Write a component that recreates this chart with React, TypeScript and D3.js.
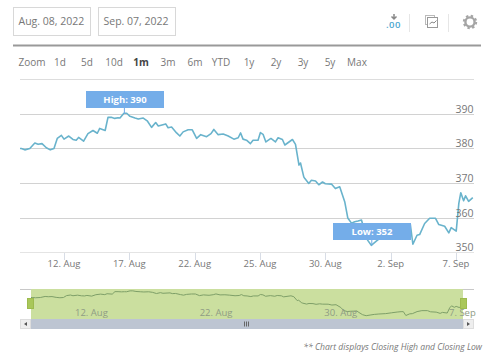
import React from "react";
import * as d3 from "d3";

// Trading sessions counted from 12 Aug (0)
const sessions = [-2.02,-1.96,-1.8,-1.57,-1.34,-1.19,-1.01,-0.81,-0.63,-0.46,-0.31,-0.12,0,0.22,0.41,0.56,0.67,0.9,1.1,1.33,1.53,1.64,1.89,2.02,2.17,2.33,2.48,2.57,2.75,2.88,3.03,3.26,3.41,3.64,3.82,4.02,4.21,4.33,4.67,4.78,4.94,5.17,5.32,5.47,5.7,5.89,6.09,6.28,6.55,6.75,6.88,7.08,7.31,7.54,7.8,8,8.11,8.22,8.38,8.56,8.68,8.91,9.02,9.14,9.27,9.5,9.71,9.83,10.03,10.14,10.49,10.63,10.79,10.86,11.01,11.06,11.24,11.36,11.55,11.7,11.87,12,12.28,12.46,12.66,12.89,13.03,13.2,13.35,13.5,13.66,13.76,13.94,14.11,14.34,14.5,14.72,15.05,15.32,15.6,15.79,15.9,16.02,16.21,16.33,16.56,16.79,17.06,17.21,17.48,17.67,17.78,18.01,18.13,18.22,18.35,18.44,18.58,18.77];
const closes = [380,380,379.6,380,381.6,381.2,381.4,380.2,379.6,380,382.9,383.8,382.7,383.6,382.6,382.4,383.2,382.1,384.3,385.2,384.4,385.8,385.2,389,389,388.7,388.9,388.8,390.2,390.2,389.3,388.8,388.5,388.8,388,386.1,387.5,386.5,387.1,386,386.2,384.5,383.6,384.8,385.4,385.4,382.9,384,383.4,384.3,385.5,384,384.2,383.6,382.7,383.1,384.5,382.7,382.4,381.4,382.4,382.4,384.6,384.1,381.9,382.9,381.9,383.1,382.6,381,382.6,381.2,375.2,375.8,371.8,371.3,369.9,370.8,370.6,369.5,370.3,369.8,369.7,368.4,368.9,364.6,359.9,358.4,358.8,359,359.3,357,353.5,352,353.2,354,354.6,355.2,356.4,357.6,358.2,358.2,352.3,354.9,355.1,358.3,359.8,359.8,358,357.5,355.6,357.1,356.1,364.1,367.2,364.9,366.3,364.7,365.8];

const yTicks = [350, 360, 370, 380, 390];
const xTickSessions = [0, 3, 6, 9, 12, 15, 18];
const xTickLabels = ["12. Aug", "17. Aug", "22. Aug", "25. Aug", "30. Aug", "2. Sep", "7. Sep"];
const navTickSessions = [0, 6, 12, 18];
const navTickLabels = ["12. Aug", "22. Aug", "30. Aug", "7. Sep"];
const dateInputs = ["Aug. 08, 2022", "Sep. 07, 2022"];
const rangeLabels = ["Zoom", "1d", "5d", "10d", "1m", "3m", "6m", "YTD", "1y", "2y", "3y", "5y", "Max"];
const rangeCenters = [32, 60, 87, 114, 141, 168, 195, 221, 249, 276, 303, 330, 357];

const FONT = "'Open Sans', 'Noto Sans', sans-serif";
const TEXT = "#777";

export default function App() {
  const x = d3.scaleLinear().domain([0, 18]).range([64, 456]);
  const y = d3.scaleLinear().domain([350, 390]).range([252.2, 113.9]);
  const nx = d3.scaleLinear().domain([-2.02, 18.77]).range([31, 463]);
  const ny = d3.scaleLinear().domain([352, 390]).range([315.7, 291]);
  const pts = sessions.map((s, i) => [s, closes[i]] as [number, number]);
  const line = d3.line<[number, number]>().x((d) => x(d[0])).y((d) => y(d[1]));
  const navLine = d3.line<[number, number]>().x((d) => nx(d[0])).y((d) => ny(d[1]));

  const hi = 390;
  const lo = 352;

  return (
    <svg width={500} height={356} style={{ position: "absolute", left: 0, top: 0, fontFamily: FONT }}>
      <rect width={500} height={356} fill="#fff" />
      {/* date inputs */}
      {dateInputs.map((t, i) => (
        <g key={t}>
          <rect x={13.5 + i * 85} y={7.5} width={77} height={28} fill="#fff" stroke="#d8d8d8" />
          <text x={18.5 + i * 85} y={25} fontSize={10.5} fill={TEXT}>{t}</text>
        </g>
      ))}
      {/* toolbar icons */}
      <path d="M394 14v4M391.5 16.5l2.5 2.5 2.5-2.5" fill="none" stroke="#888" strokeWidth={1.5} />
      <text x={393.5} y={28} fontSize={9.5} fontWeight={600} letterSpacing={0.5} fill="#4ba6cf" textAnchor="middle">.00</text>
      <line x1={409.5} x2={409.5} y1={14} y2={32} stroke="#e6e6e6" />
      <rect x={425.5} y={15.5} width={9} height={9} fill="#fff" stroke="#bbb" />
      <rect x={427.5} y={17.5} width={10} height={10} fill="#fff" stroke="#999" />
      <path d="M429.5 24l2.5-2 2 1 2.5-2.5" fill="none" stroke="#888" />
      <line x1={448.5} x2={448.5} y1={14} y2={32} stroke="#e6e6e6" />
      <circle cx={470} cy={22} r={4.6} fill="none" stroke="#a5a5a5" strokeWidth={2.4} />
      <circle cx={470} cy={22} r={6.2} fill="none" stroke="#a5a5a5" strokeWidth={2} strokeDasharray="2.4 2.47" />
      {/* separators */}
      <line x1={13} x2={481} y1={45.5} y2={45.5} stroke="#999" strokeWidth={2} />
      {rangeLabels.map((t, i) => (
        <text key={t} x={rangeCenters[i]} y={66} fontSize={10} textAnchor="middle" fill={t === "1m" ? "#444" : TEXT} fontWeight={t === "1m" ? 700 : 400}>{t}</text>
      ))}
      <line x1={20} x2={474} y1={79.5} y2={79.5} stroke="#ddd" />
      {/* grid */}
      {yTicks.map((t) => (
        <line key={t} x1={20} x2={474} y1={Math.round(y(t)) + 0.5} y2={Math.round(y(t)) + 0.5} stroke={t === 350 ? "#e4e4e4" : "#d2d2d2"} />
      ))}
      {xTickSessions.map((s, i) => (
        <g key={s}>
          <line x1={Math.round(x(s)) + 0.5} x2={Math.round(x(s)) + 0.5} y1={253} y2={260} stroke="#d8dde6" />
          <text x={x(s)} y={267} fontSize={9.5} textAnchor="middle" fill={TEXT}>{xTickLabels[i]}</text>
        </g>
      ))}
      {/* series */}
      <path d={line(pts) ?? ""} fill="none" stroke="#69b3cc" strokeWidth={1.6} strokeLinejoin="round" />
      {/* y labels */}
      {yTicks.map((t) => (
        <text key={t} x={473.5} y={y(t) - 1} fontSize={10.5} textAnchor="end" fill={TEXT}>{t}</text>
      ))}
      {/* high / low flags */}
      <line x1={x(2.75) + 0.5} x2={x(2.75) + 0.5} y1={108} y2={y(hi)} stroke="#6fa9e8" />
      <rect x={86} y={91} width={78} height={17} fill="#74ade9" />
      <text x={125} y={103} fontSize={9.5} fontWeight={700} textAnchor="middle" fill="#fff">High: {hi}</text>
      <line x1={x(14.11) + 0.5} x2={x(14.11) + 0.5} y1={240} y2={y(lo)} stroke="#6fa9e8" />
      <rect x={333} y={223} width={78} height={17} fill="#74ade9" />
      <text x={372} y={235} fontSize={9.5} fontWeight={700} textAnchor="middle" fill="#fff">Low: {lo}</text>
      {/* navigator */}
      <line x1={20} x2={474} y1={289.5} y2={289.5} stroke="#c8c8c8" />
      <rect x={31} y={289} width={432} height={30} fill="#cbdf9f" />
      <path d={navLine(pts) ?? ""} fill="none" stroke="#7e9f68" strokeWidth={1} />
      {navTickSessions.map((s, i) => (
        <text key={s} x={nx(s) + 2} y={316} fontSize={9.5} fill="#8f9c84">{navTickLabels[i]}</text>
      ))}
      <rect x={27.5} y={298.5} width={6} height={10} fill="#a9c75a" stroke="#9dbb4e" />
      <rect x={460.5} y={298.5} width={6} height={10} fill="#a9c75a" stroke="#9dbb4e" />
      {/* scrollbar */}
      <rect x={31} y={319} width={432} height={10} fill="#bdc5d2" />
      <rect x={20.5} y={319.5} width={10} height={9} fill="#eee" stroke="#ddd" />
      <path d="M27 322l-3 2 3 2z" fill="#555" />
      <rect x={463.5} y={319.5} width={10} height={9} fill="#eee" stroke="#ddd" />
      <path d="M467 322l3 2-3 2z" fill="#555" />
      <path d="M244.5 321.5v5M246.5 321.5v5M248.5 321.5v5" stroke="#666" />
      {/* note */}
      <text x={482} y={350} fontSize={8.6} fontStyle="italic" textAnchor="end" fill="#777">** Chart displays Closing High and Closing Low</text>
    </svg>
  );
}
